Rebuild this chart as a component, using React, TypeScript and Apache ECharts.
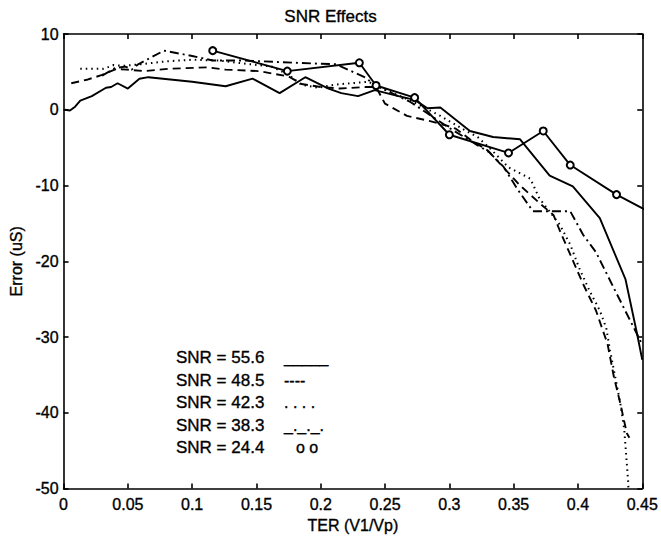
import React, { useEffect, useRef } from 'react';
import * as echarts from 'echarts';

const chartTitle = 'SNR Effects';
const xAxisName = 'TER (V1/Vp)';
const yAxisName = 'Error (uS)';
const legendLabels = ['SNR = 55.6', 'SNR = 48.5', 'SNR = 42.3', 'SNR = 38.3', 'SNR = 24.4'];
const legendSamples = ['_____', '----', '. . . .', '_._._.', 'o o'];

// SNR = 55.6 (solid)
const snr556: [number, number][] = [
  [0.001, 0], [0.005, -0.1], [0.009, 0.4], [0.013, 1.2], [0.022, 1.8], [0.033, 2.9], [0.037, 3.0],
  [0.042, 3.5], [0.05, 2.8], [0.059, 4.1], [0.066, 4.3], [0.1, 3.7], [0.126, 3.1], [0.147, 4.1],
  [0.168, 2.2], [0.188, 4.3], [0.206, 2.8], [0.216, 2.2], [0.229, 1.8], [0.242, 2.6], [0.258, 1.9],
  [0.273, 1.3], [0.283, 0.2], [0.293, 0.3], [0.316, -2.8], [0.334, -3.6], [0.355, -3.9], [0.378, -8.7],
  [0.396, -10.1], [0.417, -14.3], [0.437, -22.4], [0.446, -29.6], [0.45, -33],
];
// SNR = 48.5 (dashed)
const snr485: [number, number][] = [
  [0.006, 3.5], [0.019, 4.0], [0.03, 4.6], [0.041, 5.4], [0.049, 5.3], [0.063, 5.1], [0.081, 5.4],
  [0.112, 5.6], [0.126, 5.3], [0.152, 5.1], [0.175, 4.4], [0.185, 3.4], [0.2, 3.0], [0.215, 2.8],
  [0.235, 3.0], [0.243, 3.0], [0.25, 0.8], [0.267, -0.8], [0.285, -1.5], [0.298, -2.1], [0.305, -2.5],
  [0.316, -3.9], [0.33, -5.4], [0.342, -7.6], [0.355, -10.0], [0.37, -12.3], [0.381, -13.9],
  [0.386, -16.0], [0.394, -19.1], [0.404, -23.0], [0.414, -26.5], [0.423, -30.9], [0.428, -35.3],
  [0.433, -38.8], [0.438, -42.7], [0.44, -43.3],
];
// SNR = 42.3 (dotted)
const snr423: [number, number][] = [
  [0.013, 5.4], [0.031, 5.4], [0.039, 5.9], [0.046, 5.8], [0.06, 6.0], [0.08, 6.4], [0.1, 6.6],
  [0.121, 6.5], [0.135, 6.2], [0.162, 5.7], [0.175, 4.6], [0.185, 3.3], [0.198, 2.9], [0.21, 3.3],
  [0.237, 3.7], [0.245, 3.0], [0.27, 1.2], [0.293, -0.8], [0.311, -2.6], [0.322, -3.6], [0.331, -5.0],
  [0.346, -7.6], [0.363, -9.1], [0.37, -11.7], [0.386, -15.2], [0.394, -17.8], [0.401, -20.9],
  [0.409, -23.9], [0.417, -26.5], [0.422, -28.8], [0.425, -31.8], [0.429, -35.3], [0.433, -38.8],
  [0.436, -42.2], [0.439, -49], [0.4395, -51],
];
// SNR = 38.3 (dash-dot)
const snr383: [number, number][] = [
  [0.03, 4.5], [0.04, 5.5], [0.048, 5.7], [0.053, 5.3], [0.058, 6.0], [0.078, 7.8], [0.1, 7.1],
  [0.116, 6.5], [0.14, 6.5], [0.18, 6.2], [0.212, 6.0], [0.234, 4.3], [0.243, 3.2], [0.27, 1.0],
  [0.3, -2.4], [0.322, -4.7], [0.331, -5.6], [0.342, -7.5], [0.353, -10.5], [0.365, -13.4],
  [0.394, -13.4], [0.404, -16.5], [0.414, -18.8], [0.429, -23.9], [0.445, -29.3], [0.45, -31],
];
// SNR = 24.4 (circles)
const snr244: [number, number][] = [
  [0.116, 7.8], [0.174, 5.1], [0.23, 6.2], [0.243, 3.2], [0.273, 1.6], [0.3, -3.3], [0.346, -5.7],
  [0.373, -2.8], [0.394, -7.3], [0.43, -11.2], [0.47, -14.8],
];

const FONT = "'Liberation Sans', Arial, Helvetica, sans-serif";

export default function App() {
  const ref = useRef<HTMLDivElement>(null);
  useEffect(() => {
    document.body.style.margin = '0';
    if (!ref.current) return;
    const chart = echarts.init(ref.current, undefined, { renderer: 'svg' });
    const axisLine = { show: true, onZero: false, lineStyle: { color: '#000', width: 1.6 } };
    const axisTick = { show: true, inside: true, length: 5, lineStyle: { color: '#000', width: 1.6 } };
    const txt = {
      color: '#000', fontSize: 16, fontFamily: FONT,
      textBorderColor: '#000', textBorderWidth: 0.35,
    };
    const lineBase = { color: '#000', width: 1.9 };

    const legendGraphics: any[] = [];
    const rowY = [357, 380, 402, 425, 447];
    legendLabels.forEach((lab, i) => {
      legendGraphics.push({
        type: 'text', x: 176, y: rowY[i], z: 100,
        style: {
          text: lab, fill: '#000', fontSize: 17, fontFamily: FONT, verticalAlign: 'middle',
          stroke: '#000', lineWidth: 0.35,
        },
      });
      legendGraphics.push({
        type: 'text', x: i === 4 ? 296 : 284, y: rowY[i], z: 100,
        style: {
          text: legendSamples[i], fill: '#000', fontSize: 16, fontFamily: FONT, verticalAlign: 'middle',
          stroke: '#000', lineWidth: 0.35,
        },
      });
    });

    chart.setOption({
      animation: false,
      backgroundColor: '#fff',
      title: {
        text: chartTitle, left: 'center', top: 3,
        textStyle: { ...txt, fontSize: 17, fontWeight: 'normal' },
      },
      grid: { left: 60, right: 18, top: 34, bottom: 46, containLabel: false },
      xAxis: [
        {
          type: 'value', min: 0, max: 0.45, interval: 0.05, position: 'bottom',
          axisLine, axisTick, splitLine: { show: false },
          axisLabel: { ...txt, margin: 8, formatter: (v: number) => String(+v.toFixed(2)) },
          name: xAxisName, nameLocation: 'middle', nameGap: 23, nameTextStyle: txt,
        },
        {
          type: 'value', min: 0, max: 0.45, interval: 0.05, position: 'top',
          axisLine, axisTick, splitLine: { show: false }, axisLabel: { show: false },
        },
      ],
      yAxis: [
        {
          type: 'value', min: -50, max: 10, interval: 10, position: 'left',
          axisLine, axisTick, splitLine: { show: false },
          axisLabel: { ...txt, margin: 5 },
          name: yAxisName, nameLocation: 'middle', nameGap: 27, nameTextStyle: txt,
        },
        {
          type: 'value', min: -50, max: 10, interval: 10, position: 'right',
          axisLine, axisTick, splitLine: { show: false }, axisLabel: { show: false },
        },
      ],
      series: [
        { name: legendLabels[0], type: 'line', data: snr556, symbol: 'none', clip: true, lineStyle: { ...lineBase, type: 'solid' } },
        { name: legendLabels[1], type: 'line', data: snr485, symbol: 'none', clip: true, lineStyle: { ...lineBase, type: [8, 5] } },
        { name: legendLabels[2], type: 'line', data: snr423, symbol: 'none', clip: true, lineStyle: { ...lineBase, width: 2, type: [1.5, 4] } },
        { name: legendLabels[3], type: 'line', data: snr383, symbol: 'none', clip: true, lineStyle: { ...lineBase, type: [9, 4, 2, 4] } },
        {
          name: legendLabels[4], type: 'line', data: snr244, clip: true, z: 5,
          symbol: 'emptyCircle', symbolSize: 7, showSymbol: true,
          itemStyle: { color: '#000', borderColor: '#000', borderWidth: 1.5 },
          lineStyle: { ...lineBase, type: 'solid' },
        },
      ],
      graphic: legendGraphics,
    });
    return () => chart.dispose();
  }, []);
  return <div ref={ref} style={{ width: 661, height: 539 }} />;
}
